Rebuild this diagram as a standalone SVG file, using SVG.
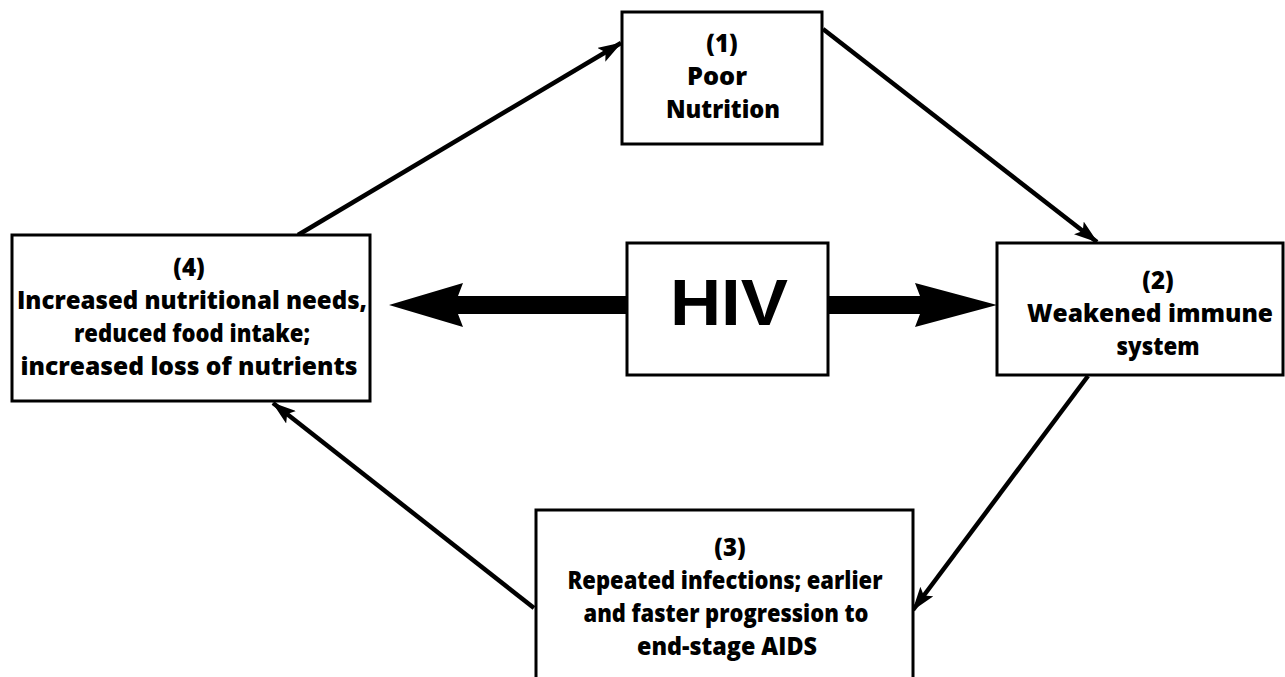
<svg xmlns="http://www.w3.org/2000/svg" width="1285" height="677" viewBox="0 0 1285 677">
<defs>
<style>
.box{fill:#fff;stroke:#000;stroke-width:3}
.t{font-family:"Open Sans","Liberation Sans",sans-serif;font-weight:800;font-size:24px;fill:#000;text-anchor:middle}
.hiv{font-family:"Liberation Sans",Arial,sans-serif;font-weight:bold;font-size:64px;fill:#000;text-anchor:middle}
.c{stroke:#000;stroke-width:4.5;fill:none;marker-end:url(#ah)}
</style>
<marker id="ah" markerUnits="userSpaceOnUse" viewBox="0 0 24 16" refX="23" refY="8" markerWidth="24" markerHeight="16" orient="auto">
<path d="M0,0 L24,8 L0,16 L5,8 Z" fill="#000"/>
</marker>
</defs>
<rect width="1285" height="677" fill="#fff"/>
<g id="connectors">
<line class="c" x1="298" y1="235" x2="621" y2="43"/>
<line class="c" x1="823" y1="29" x2="1097" y2="242"/>
<line class="c" x1="1088" y1="376" x2="913" y2="610"/>
<line class="c" x1="534" y1="608" x2="273" y2="403"/>
<path d="M627,296 L458,296 L463,283 L389,305 L463,327 L458,314 L627,314 Z" fill="#000"/>
<path d="M827,296 L920,296 L915,283 L997,305 L915,327 L920,314 L827,314 Z" fill="#000"/>
</g>
<g id="node1">
<rect class="box" x="622" y="12" width="200" height="132"/>
<text class="t" x="722" y="52">(1)</text>
<text class="t" x="717" y="85" textLength="60" lengthAdjust="spacingAndGlyphs">Poor</text>
<text class="t" x="723" y="118" textLength="114" lengthAdjust="spacingAndGlyphs">Nutrition</text>
</g>
<g id="nodeHIV">
<rect class="box" x="627" y="243" width="201" height="132"/>
<text class="hiv" x="729" y="325" textLength="118" lengthAdjust="spacingAndGlyphs">HIV</text>
</g>
<g id="node4">
<rect class="box" x="12" y="235" width="358" height="166"/>
<text class="t" x="189" y="276">(4)</text>
<text class="t" x="192" y="309" textLength="350" lengthAdjust="spacingAndGlyphs">Increased nutritional needs,</text>
<text class="t" x="192" y="342" textLength="236" lengthAdjust="spacingAndGlyphs">reduced food intake;</text>
<text class="t" x="189" y="375" textLength="337" lengthAdjust="spacingAndGlyphs">increased loss of nutrients</text>
</g>
<g id="node2">
<rect class="box" x="997" y="243" width="286" height="132"/>
<text class="t" x="1158" y="289">(2)</text>
<text class="t" x="1150" y="322" textLength="246" lengthAdjust="spacingAndGlyphs">Weakened immune</text>
<text class="t" x="1158" y="355" textLength="83" lengthAdjust="spacingAndGlyphs">system</text>
</g>
<g id="node3">
<rect class="box" x="536" y="510" width="377" height="180"/>
<text class="t" x="730" y="556">(3)</text>
<text class="t" x="725" y="589" textLength="315" lengthAdjust="spacingAndGlyphs">Repeated infections; earlier</text>
<text class="t" x="726" y="622" textLength="285" lengthAdjust="spacingAndGlyphs">and faster progression to</text>
<text class="t" x="727" y="655" textLength="180" lengthAdjust="spacingAndGlyphs">end-stage AIDS</text>
</g>
</svg>
